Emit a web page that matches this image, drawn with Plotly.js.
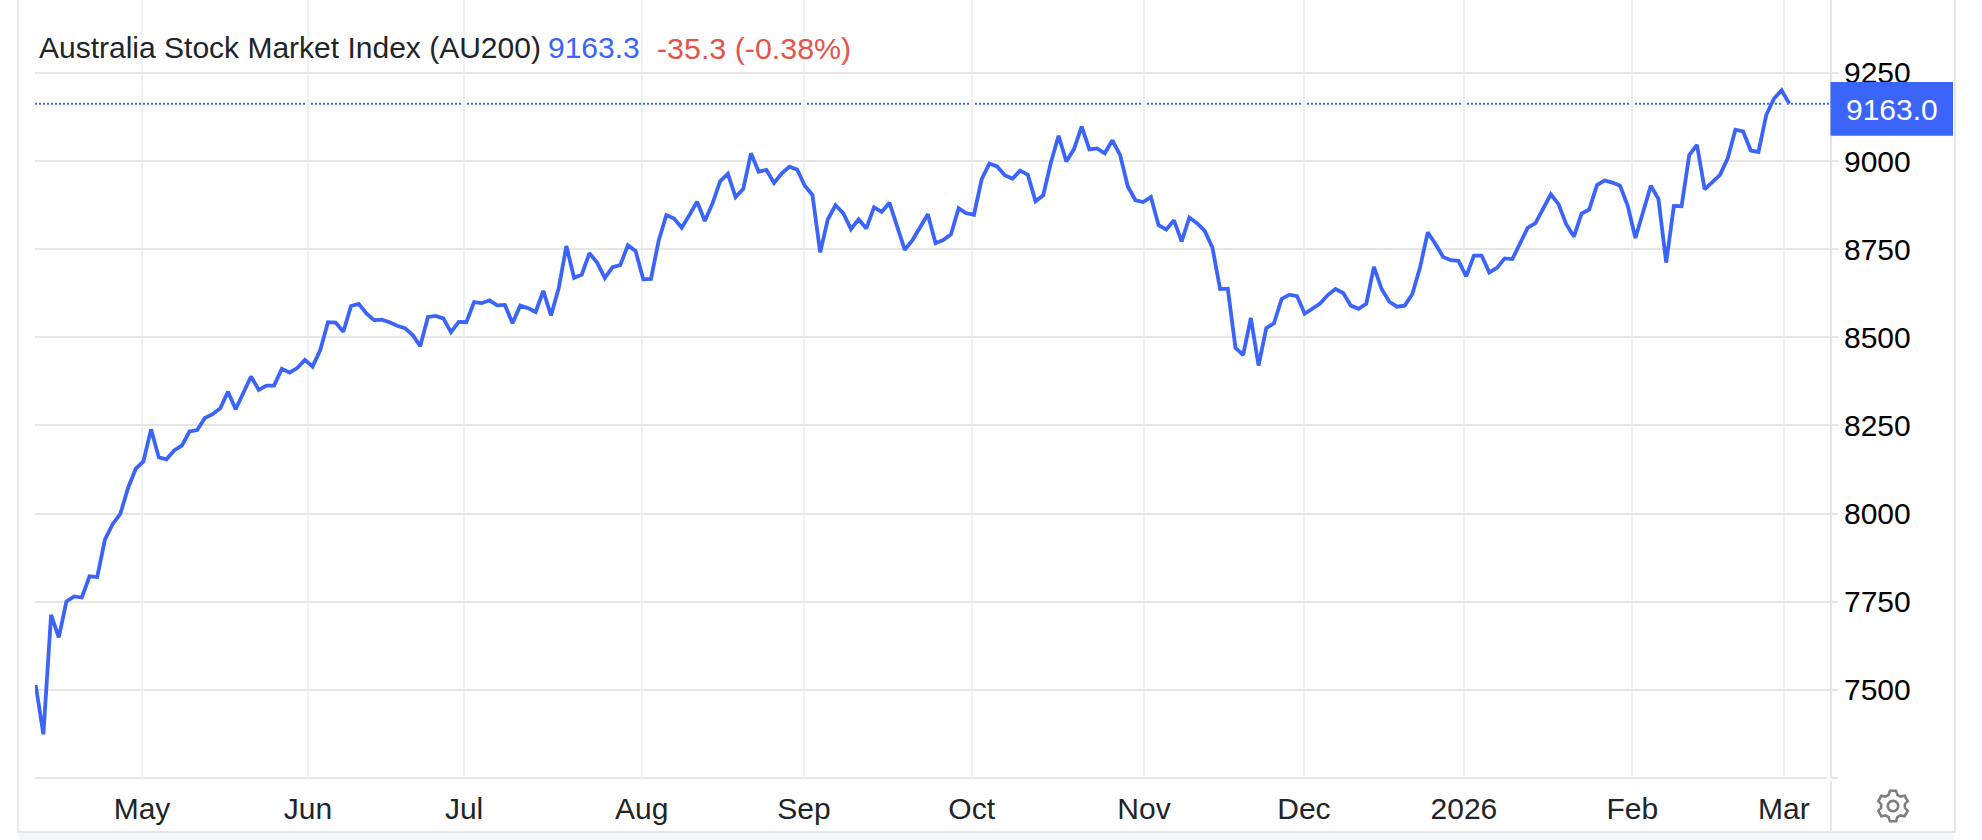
<!DOCTYPE html>
<html>
<head>
<meta charset="utf-8">
<script src="https://cdn.plot.ly/plotly-3.0.1.min.js"></script>
<style>html,body{margin:0;padding:0;background:#fff}#chart{width:1982px;height:840px}</style>
</head>
<body>
<div id="chart"></div>
<script>
// Daily closes, one per session, oldest first
const closes = [
7514,7374,7713,7649,7751,7765,7762,7822,7820,7926,7970,7999,8072,8127,8148,8239,8160,8154,8179,8193,
8233,8237,8271,8282,8299,8346,8296,8343,8389,8351,8363,8363,8411,8400,8413,8436,8417,8464,8543,8542,
8516,8589,8595,8568,8549,8550,8543,8533,8526,8507,8475,8558,8561,8554,8515,8544,8543,8600,8597,8605,
8591,8592,8540,8590,8583,8572,8632,8562,8639,8759,8669,8678,8739,8712,8668,8699,8705,8761,8745,8665,
8666,8774,8847,8837,8811,8847,8885,8830,8880,8943,8964,8898,8921,9022,8970,8975,8938,8965,8984,8976,
8930,8904,8741,8835,8875,8852,8807,8835,8809,8869,8856,8882,8816,8748,8776,8811,8849,8767,8776,8792,
8866,8852,8848,8949,8993,8985,8960,8950,8973,8961,8886,8903,8996,9072,8999,9034,9098,9033,9036,9022,
9059,9017,8928,8889,8884,8898,8818,8806,8832,8772,8840,8824,8802,8755,8637,8638,8470,8450,8555,8420,
8526,8540,8609,8621,8617,8567,8581,8596,8620,8637,8626,8590,8581,8595,8700,8637,8601,8587,8590,8623,
8699,8798,8765,8728,8719,8717,8673,8732,8732,8684,8697,8724,8722,8764,8811,8824,8863,8906,8878,8821,
8786,8851,8863,8932,8945,8939,8930,8873,8782,8854,8930,8892,8712,8873,8872,9017,9046,8920,8939,8961,
9008,9089,9084,9030,9026,9130,9177,9201,9163
];
const sessions = closes.map((_, i) => i);
const monthLabels = ["May","Jun","Jul","Aug","Sep","Oct","Nov","Dec","2026","Feb","Mar"];
const monthSessions = [13.82,35.4,55.7,78.8,99.9,121.7,144.1,164.9,185.7,207.6,227.3];
const priceTicks = [7250,7500,7750,8000,8250,8500,8750,9000,9250];
const priceLabels = ["","7500","7750","8000","8250","8500","8750","9000","9250"];
const titleName = "Australia Stock Market Index (AU200)";
const titlePrice = "9163.3";
const titleChange = "-35.3 (-0.38%)";
const lastLabel = "9163.0";
const lastPrice = 9163;

const BLUE = "#3a64fa", GRID_H = "#e6e6e6", GRID_V = "#eff2f5", FRAME = "#e6e8eb";
const FONT = '"Liberation Sans", Arial, sans-serif';
const L = 35, R = 1830, B = 778;
const fx = px => (px - L) / (R - L);
const fy = py => 1 - py / B;
const box = (x0, y0, x1, y1, color, layer) => ({
  type: "rect", xref: "paper", yref: "paper", x0: fx(x0), x1: fx(x1), y0: fy(y0), y1: fy(y1),
  fillcolor: color, line: { width: 0 }, layer: layer
});
const label = (text, px, py, color, size) => ({
  text: text, xref: "paper", yref: "paper", x: fx(px), y: fy(py), xanchor: "left", yanchor: "middle",
  showarrow: false, font: { family: FONT, size: size || 30, color: color }
});

function gearPath(rOut, rIn, teeth) {
  const pts = [];
  const step = 2 * Math.PI / teeth;
  for (let t = 0; t < teeth; t++) {
    const a = t * step;
    [[-0.36, rIn], [-0.19, rOut], [0.19, rOut], [0.36, rIn]].forEach(([f, r]) => {
      const ang = a + f * step;
      pts.push((r * Math.sin(ang)).toFixed(2) + "," + (r * Math.cos(ang)).toFixed(2));
    });
  }
  return "M" + pts.join("L") + "Z";
}
function ringPath(r) {
  const pts = [];
  for (let k = 0; k < 24; k++) {
    const ang = k * Math.PI / 12;
    pts.push((r * Math.sin(ang)).toFixed(2) + "," + (r * Math.cos(ang)).toFixed(2));
  }
  return "M" + pts.join("L") + "Z";
}
const gear = path => ({
  type: "path", xref: "paper", yref: "paper", xsizemode: "pixel", ysizemode: "pixel",
  xanchor: fx(1893), yanchor: fy(806), path: path,
  line: { color: "#7f7f7f", width: 2.6 }, fillcolor: "rgba(0,0,0,0)", layer: "above"
});

const shapes = [
  box(30, 15, 858, 71, "#ffffff", "below"),
  box(35, 777, 1827.4, 779, GRID_H, "below"),
  box(1827.4, 0, 1829, 778, "#ffffff", "below"),
  { type: "line", xref: "paper", yref: "y", x0: 0, x1: fx(1829), y0: lastPrice, y1: lastPrice,
    line: { color: BLUE, width: 2, dash: "2px,2px" }, layer: "below" },
  box(17, 0, 19, 832, FRAME, "above"),
  box(1954, 0, 1956, 832, FRAME, "above"),
  box(1830, 781, 1832, 832, FRAME, "above"),
  box(17, 831, 1956, 833, FRAME, "above"),
  box(19, 833, 1954, 840, "#f5f6f8", "above"),
  box(1830.5, 82, 1953, 135.7, BLUE, "above"),
  gear(gearPath(15.5, 12, 6)),
  gear(ringPath(5.2))
];

const annotations = [
  label(titleName, 36.5, 48, "#212529"),
  label(titlePrice, 546, 48, BLUE),
  label(titleChange, 655, 48, "#e5534b", 30.4),
  label(lastLabel, 1844, 110, "#ffffff")
];

Plotly.newPlot("chart", [{
  type: "scatter", mode: "lines", x: sessions, y: closes,
  line: { color: BLUE, width: 3.8, shape: "linear" }, hoverinfo: "skip"
}], {
  width: 1982, height: 840, autosize: false,
  margin: { l: L, r: 1982 - R, t: 0, b: 840 - B, pad: 0 },
  paper_bgcolor: "#ffffff", plot_bgcolor: "#ffffff", showlegend: false,
  font: { family: FONT, size: 30 },
  xaxis: {
    type: "linear", range: [-0.09, 233.3], tickmode: "array", tickvals: monthSessions, ticktext: monthLabels,
    showgrid: true, gridcolor: GRID_V, gridwidth: 2, zeroline: false, showline: false, ticks: "",
    ticklabelstandoff: 10, tickfont: { family: FONT, size: 30, color: "#212529" }, fixedrange: true
  },
  yaxis: {
    type: "linear", side: "right", range: [7250, 9457], tickmode: "array", tickvals: priceTicks, ticktext: priceLabels,
    showgrid: true, gridcolor: GRID_H, gridwidth: 2, zeroline: false,
    showline: true, linecolor: GRID_H, linewidth: 2, ticks: "outside", ticklen: 6, tickwidth: 2, tickcolor: GRID_H,
    ticklabelstandoff: 0, tickfont: { family: FONT, size: 30, color: "#000000" }, fixedrange: true
  },
  shapes: shapes,
  annotations: annotations
}, { displayModeBar: false, staticPlot: true });
</script>
</body>
</html>
